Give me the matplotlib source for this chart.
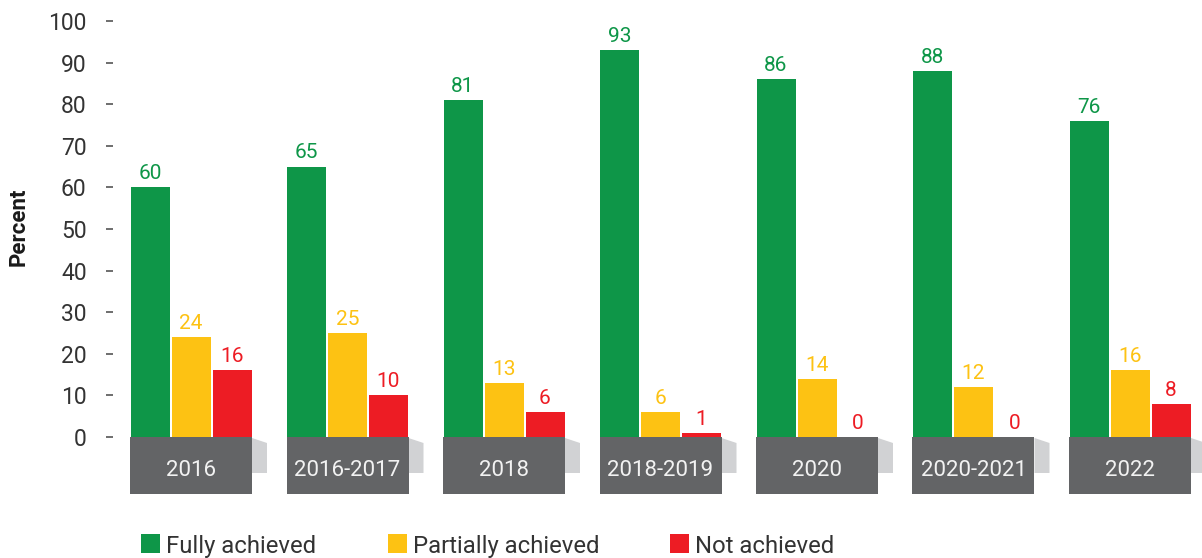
import matplotlib
matplotlib.use("Agg")
import matplotlib.pyplot as plt
from matplotlib.patches import Rectangle, Polygon
import numpy as np

plt.rcParams["font.family"] = ["Roboto", "DejaVu Sans"]

years = ["2016", "2016-2017", "2018", "2018-2019", "2020", "2020-2021", "2022"]
fully = [60, 65, 81, 93, 86, 88, 76]
partially = [24, 25, 13, 6, 14, 12, 16]
not_achieved = [16, 10, 6, 1, 0, 0, 8]

series_names = ["Fully achieved", "Partially achieved", "Not achieved"]
colors = ["#0e9648", "#fdc213", "#ed1c24"]

W, H = 1202, 558
fig = plt.figure(figsize=(W / 100, H / 100), dpi=100)

# axes spans pixel rows 10..530, y=0 sits at row 437, 4.16 px per percent
ax_left, ax_top, ax_bot = 113, 10, 530
ax = fig.add_axes([ax_left / W, 1 - ax_bot / H, 1 - ax_left / W, (ax_bot - ax_top) / H])
px_per_unit = 156.5
ax.set_xlim((ax_left - 191) / px_per_unit, (W - 191) / px_per_unit)
ax.set_ylim((437 - ax_bot) / 4.16, (437 - ax_top) / 4.16)

x = np.arange(len(years))
bw = 39 / px_per_unit
off = 41 / px_per_unit

for k, vals in enumerate([fully, partially, not_achieved]):
    bars = ax.bar(x + (k - 1) * off, vals, width=bw, color=colors[k], zorder=3)
    for b, v in zip(bars, vals):
        ax.annotate(str(v), (b.get_x() + b.get_width() / 2, v), xytext=(0, 3),
                    textcoords="offset points", ha="center", va="bottom",
                    color=colors[k], fontsize=15)

# dark category boxes with a light folded tab on their right side
box_w = 122 / px_per_unit
tab_w = 15 / px_per_unit
box_depth = (494 - 437) / 4.16
for xi, label in zip(x, years):
    x0 = xi - box_w / 2
    ax.add_patch(Rectangle((x0, -box_depth), box_w, box_depth, facecolor="#636466",
                           edgecolor="none", zorder=2, clip_on=False))
    x1 = x0 + box_w
    ax.add_patch(Polygon([(x1, -0.24), (x1 + tab_w, -1.44), (x1 + tab_w, -8.65), (x1, -8.65)],
                         closed=True, facecolor="#d1d2d4", edgecolor="none", zorder=1,
                         clip_on=False))
    ax.text(xi, -box_depth / 2 - 1.3, label, ha="center", va="center", color="#f2f2f2",
            fontsize=16, zorder=4)

ax.set_yticks(range(0, 101, 10))
ax.tick_params(axis="y", length=5, width=1.2, color="#555555", pad=14,
               labelsize=16.5, labelcolor="#333333")
ax.set_xticks([])
for s in ax.spines.values():
    s.set_visible(False)

fig.text(19 / W, 1 - 227 / H, "Percent", rotation=90, ha="center", va="center",
         fontsize=16, fontweight="bold", color="#1a1a1a")

# legend row
leg_x = [141, 388, 670]
for lx, name, c in zip(leg_x, series_names, colors):
    fig.patches.append(Rectangle((lx / W, 1 - 553 / H), 19 / W, 19 / H, facecolor=c,
                                 edgecolor="none", transform=fig.transFigure, figure=fig))
    fig.text((lx + 25) / W, 1 - 553 / H, name, ha="left", va="baseline", fontsize=17.2,
             color="#333333")

fig.savefig("out.png", dpi=100)
